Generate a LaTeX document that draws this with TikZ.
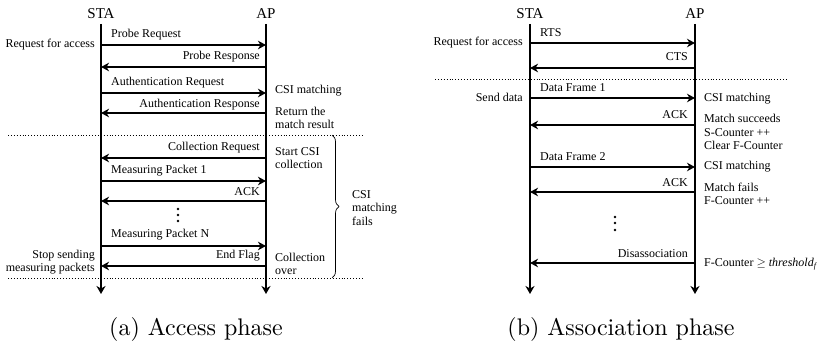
\documentclass[tikz,border=0pt]{standalone}
\usepackage{fontspec}
\newfontfamily\tnr{Liberation Serif}
\newfontfamily\capfont{lmroman10-regular}[Extension=.otf]
\usetikzlibrary{arrows.meta,decorations.pathreplacing}

\begin{document}
\begin{tikzpicture}[x=1pt,y=-1pt,
  lbl/.style={font=\tnr\fontsize{12}{13.5}\selectfont, inner sep=0pt, align=left},
  lblr/.style={lbl, anchor=east, align=right},
  lbll/.style={lbl, anchor=west},
  actor/.style={font=\tnr\fontsize{15}{17}\selectfont, inner sep=0pt},
  lifeline/.style={line width=1.6pt, -{Stealth[length=8pt,width=9pt,inset=2.5pt]}},
  msg/.style={line width=1.6pt, -{Stealth[length=8pt,width=8.5pt,inset=2.5pt]}},
  sep/.style={dotted, line width=0.9pt},
  caption/.style={font=\capfont\fontsize{24}{27}\selectfont, inner sep=0pt},
  dot/.style={circle, fill=black, inner sep=0pt, minimum size=2.6pt}
]
\useasboundingbox (0,0) rectangle (817,345);

% ---------------- (a) Access phase ----------------
\node[actor] (staA) at (101,14) {STA};
\node[actor] (apA)  at (266,14) {AP};
\coordinate (staAt) at (101,24);  \coordinate (staAb) at (101,294);
\coordinate (apAt)  at (266,24);  \coordinate (apAb)  at (266,294);
\draw[lifeline] (staAt) -- (staAb);
\draw[lifeline] (apAt) -- (apAb);

\foreach \n/\y in {a1/45, a2/67, a3/93, a4/113, a5/158, a6/181, a7/201, a8/246, a9/266}{
  \coordinate (S\n) at (101,\y);
  \coordinate (A\n) at (266,\y);
}
\draw[msg] (Sa1) -- (Aa1);
\draw[msg] (Aa2) -- (Sa2);
\draw[msg] (Sa3) -- (Aa3);
\draw[msg] (Aa4) -- (Sa4);
\draw[msg] (Aa5) -- (Sa5);
\draw[msg] (Sa6) -- (Aa6);
\draw[msg] (Aa7) -- (Sa7);
\draw[msg] (Sa8) -- (Aa8);
\draw[msg] (Aa9) -- (Sa9);

\node[lbll] (pr)   at (111,35)  {Probe Request};
\node[lblr] (prs)  at (260,57)  {Probe Response};
\node[lbll] (aur)  at (111,83)  {Authentication Request};
\node[lblr] (aurs) at (260,105) {Authentication Response};
\node[lblr] (cr)   at (260,148) {Collection Request};
\node[lbll] (mp1)  at (111,171) {Measuring Packet 1};
\node[lblr] (ack1) at (260,192) {ACK};
\node[lbll] (mpn)  at (111,235) {Measuring Packet N};
\node[lblr] (ef)   at (260,256) {End Flag};

\node[lblr] (rfa)  at (95,45)   {Request for access};
\node[lblr] (stop) at (95,262)  {Stop sending\\measuring packets};

\node[lbll] (csim) at (275,91)  {CSI matching};
\node[lbll] (ret)  at (275,118) {Return the\\match result};
\node[lbll] (scc)  at (275,158) {Start CSI\\collection};
\node[lbll] (cov)  at (275,264) {Collection\\over};

\node[dot] (da1) at (178,209) {};
\node[dot] (da2) at (178,215) {};
\node[dot] (da3) at (178,221) {};

\coordinate (sepA1l) at (8,135);   \coordinate (sepA1r) at (362,135);
\coordinate (sepA2l) at (8,278);   \coordinate (sepA2r) at (362,278);
\draw[sep] (sepA1l) -- (sepA1r);
\draw[sep] (sepA2l) -- (sepA2r);

\coordinate (brT) at (332,135);
\coordinate (brB) at (332,278);
\draw[line width=0.7pt, decorate, decoration={brace, amplitude=7pt}] (brT) -- (brB);
\node[lbll] (fail) at (352,208) {CSI\\matching\\fails};

\node[caption] (capA) at (196,329) {(a) Access phase};

% ---------------- (b) Association phase ----------------
\node[actor] (staB) at (530,14) {STA};
\node[actor] (apB)  at (695,14) {AP};
\coordinate (staBt) at (530,24);  \coordinate (staBb) at (530,294);
\coordinate (apBt)  at (695,24);  \coordinate (apBb)  at (695,294);
\draw[lifeline] (staBt) -- (staBb);
\draw[lifeline] (apBt) -- (apBb);

\foreach \n/\y in {b1/43, b2/68, b3/98, b4/125, b5/167, b6/192, b7/263}{
  \coordinate (S\n) at (530,\y);
  \coordinate (A\n) at (695,\y);
}
\draw[msg] (Sb1) -- (Ab1);
\draw[msg] (Ab2) -- (Sb2);
\draw[msg] (Sb3) -- (Ab3);
\draw[msg] (Ab4) -- (Sb4);
\draw[msg] (Sb5) -- (Ab5);
\draw[msg] (Ab6) -- (Sb6);
\draw[msg] (Ab7) -- (Sb7);

\node[lbll] (rts)  at (540,33)  {RTS};
\node[lblr] (cts)  at (688,57)  {CTS};
\node[lbll] (df1)  at (540,88)  {Data Frame 1};
\node[lblr] (ackb1) at (688,115) {ACK};
\node[lbll] (df2)  at (540,157) {Data Frame 2};
\node[lblr] (ackb2) at (688,183) {ACK};
\node[lblr] (dis)  at (688,254) {Disassociation};

\node[lblr] (rfab) at (523,43)  {Request for access};
\node[lblr] (sd)   at (523,97)  {Send data};

\node[lbll] (csb1) at (704,99)  {CSI matching};
\node[lbll] (msu)  at (704,132) {Match succeeds\\S-Counter ++\\Clear F-Counter};
\node[lbll] (csb2) at (704,167) {CSI matching};
\node[lbll] (mfl)  at (704,194) {Match fails\\F-Counter ++};
\node[lbll] (thr)  at (704,264) {F-Counter \(\geq\) {\itshape threshold}\textsubscript{\itshape f}};

\node[dot] (db1) at (615,217) {};
\node[dot] (db2) at (615,223) {};
\node[dot] (db3) at (615,230) {};

\coordinate (sepBl) at (435,79);  \coordinate (sepBr) at (788,79);
\draw[sep] (sepBl) -- (sepBr);

\node[caption] (capB) at (621,329) {(b) Association phase};
\end{tikzpicture}
\end{document}
